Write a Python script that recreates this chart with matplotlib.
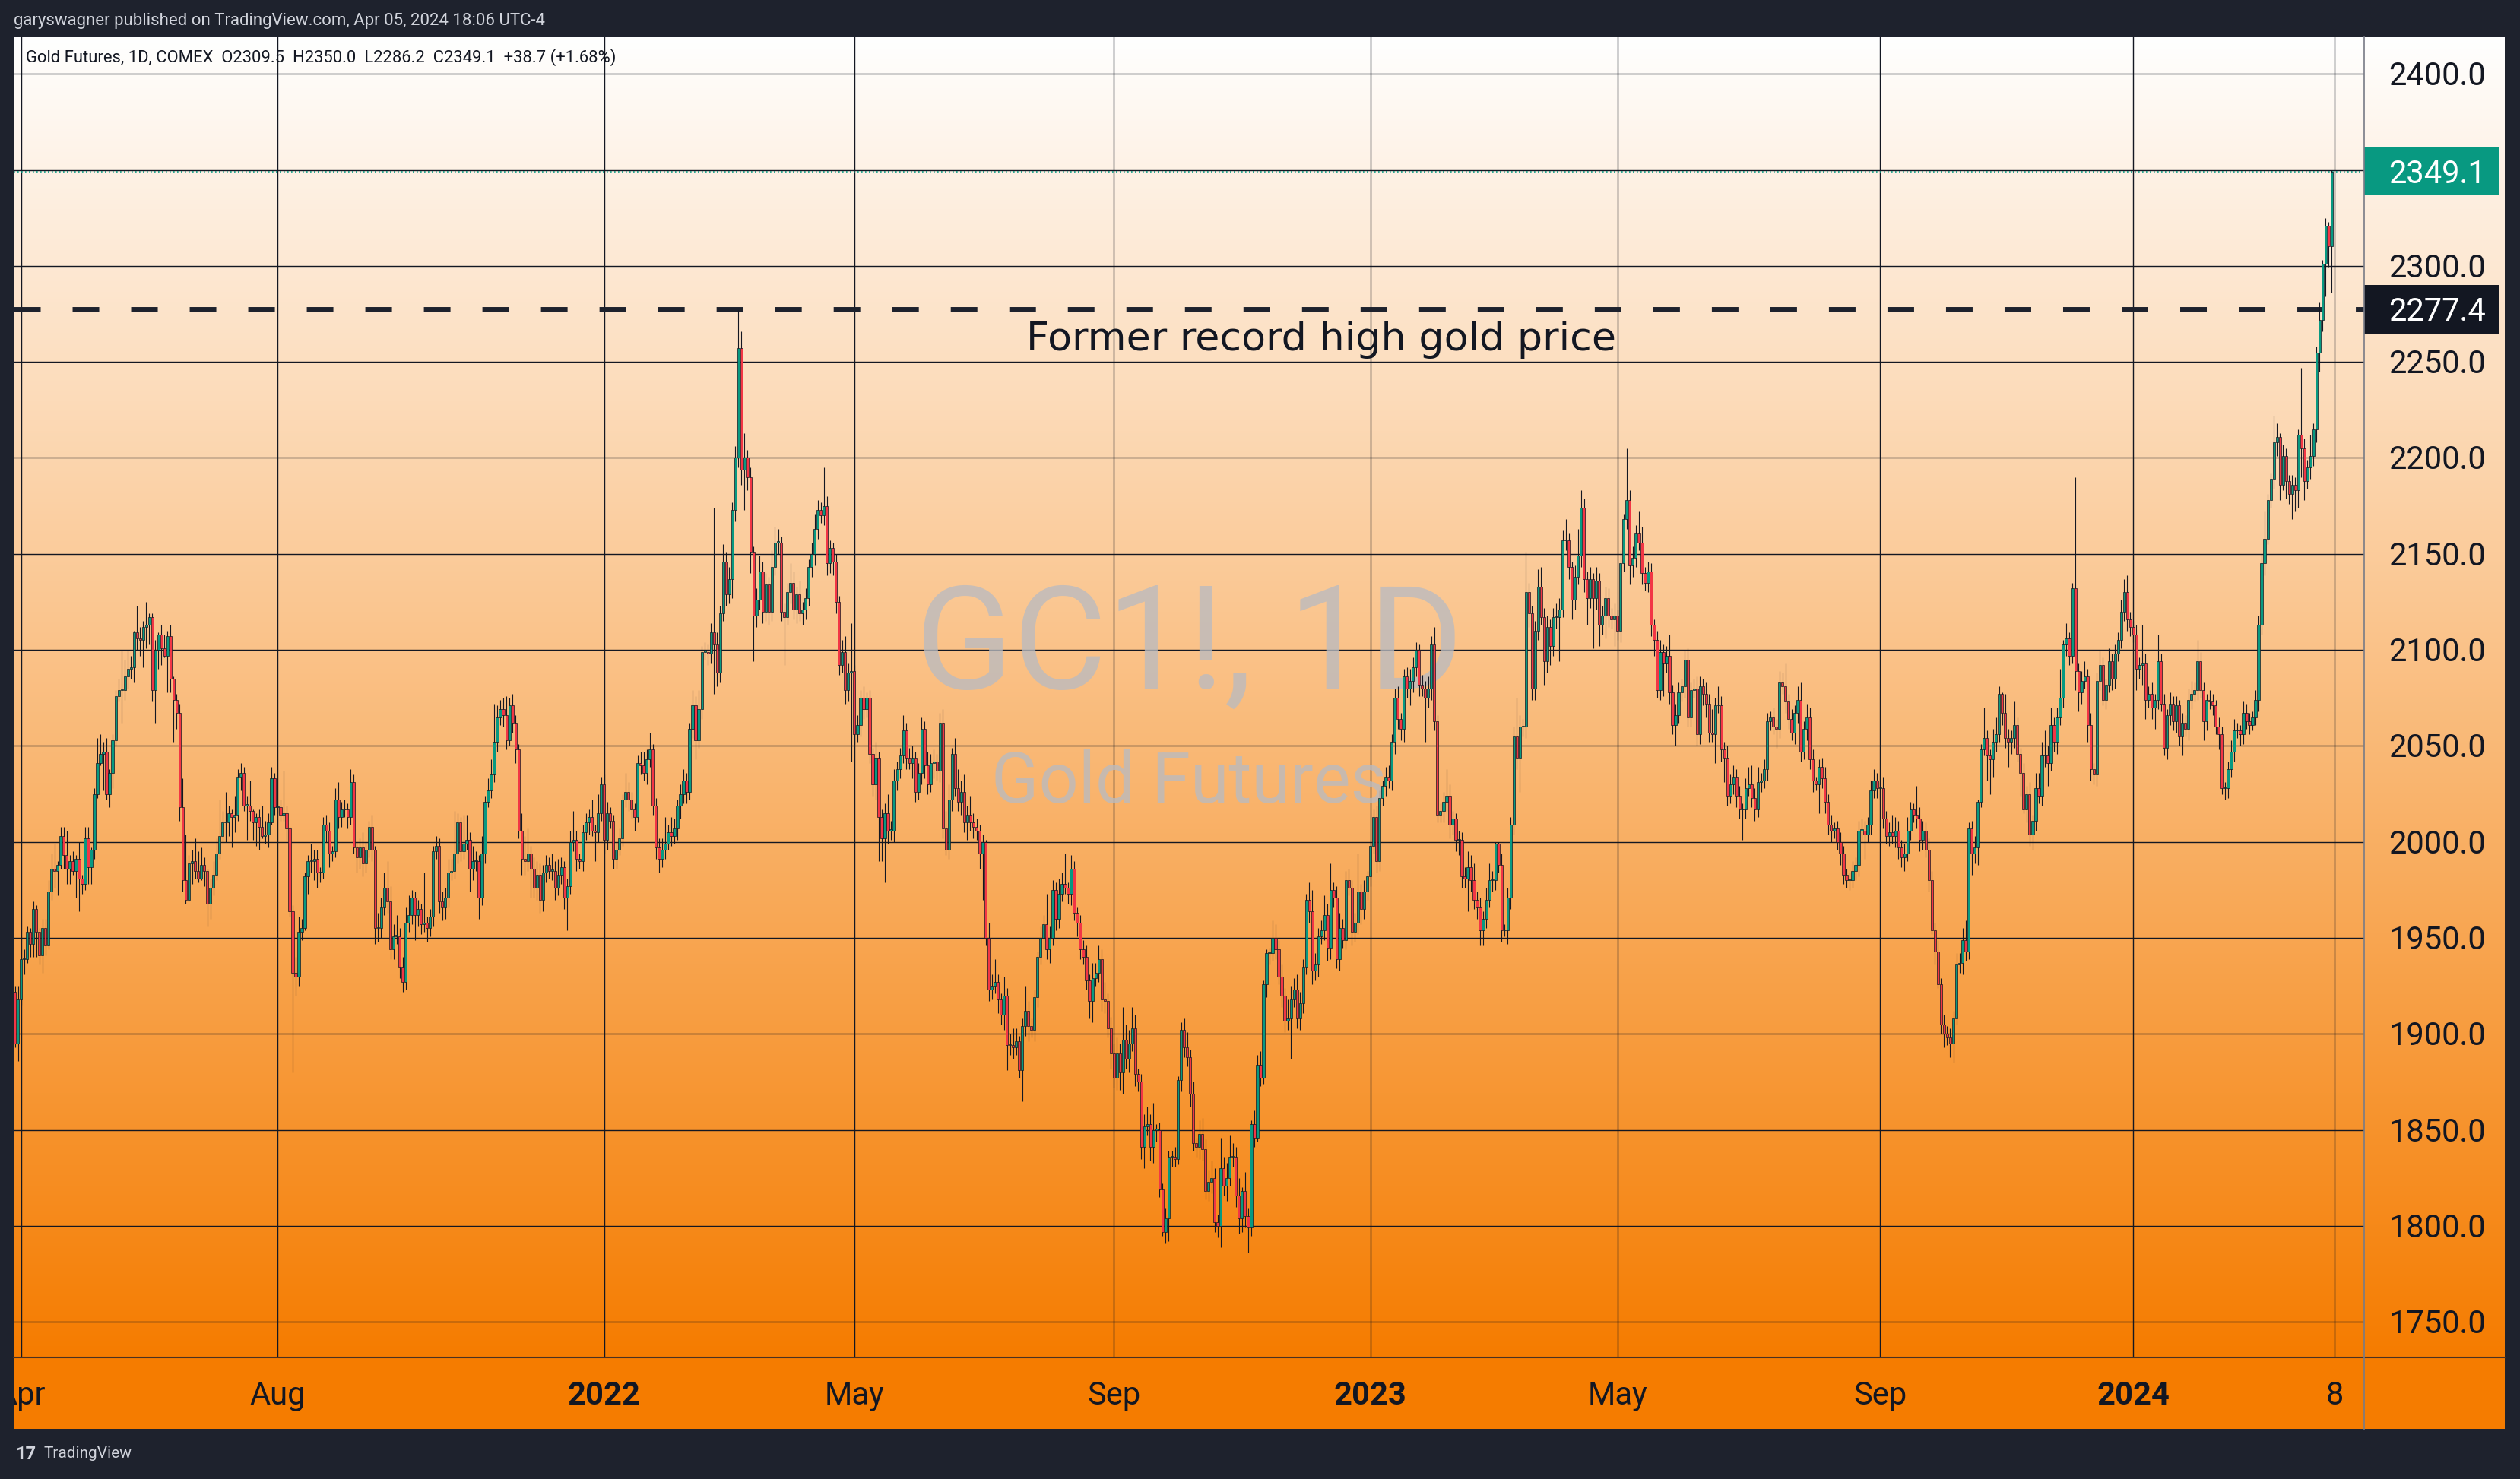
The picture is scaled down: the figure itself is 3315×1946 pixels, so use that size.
import numpy as np
import pandas as pd
import matplotlib
matplotlib.use("Agg")
import matplotlib.pyplot as plt
from matplotlib.patches import Rectangle
from matplotlib.lines import Line2D
from matplotlib.transforms import blended_transform_factory

# ---------------------------------------------------------------
# Gold Futures (GC1!, back-adjusted) daily candles
# open of each candle = previous close; wicks given in $ above/below body
# ---------------------------------------------------------------
first_open = 1922

# Mar 30 2021 -> mid Aug 2021
close_a = [1895, 1918, 1939, 1939, 1953, 1947, 1965, 1953, 1941, 1955,
           1946, 1974, 1986, 1985, 1988, 2003, 1993, 1986, 1990, 1985,
           1991, 1981, 1978, 2002, 1987, 1996, 2025, 2041, 2046, 2047,
           2025, 2036, 2053, 2076, 2079, 2079, 2086, 2090, 2091, 2109,
           2106, 2105, 2112, 2113, 2117, 2079, 2100, 2108, 2101, 2097,
           2107, 2085, 2074, 2067, 2018, 1980, 1970, 1989, 1990, 1985,
           1981, 1988, 1985, 1968, 1976, 1983, 1994, 2003, 2010, 2010,
           2015, 2013, 2014, 2034, 2036, 2019, 2019, 2016, 2010, 2013,
           2008, 2003, 2004, 2010, 2033, 2018, 2018, 2014, 2015, 2007,
           1964, 1932, 1930, 1953, 1955, 1982, 1990, 1990, 1991, 1984]
up_a = [3, 7, 1, 5, 3, 2, 4, 2, 2, 5, 5, 6, 8, 13, 2, 5, 5, 13, 3, 5,
        2, 9, 2, 6, 6, 1, 3, 13, 10, 5, 7, 2, 3, 3, 6, 21, 9, 10, 6, 1,
        14, 6, 3, 12, 2, 2, 5, 1, 5, 7, 3, 6, 1, 3, 5, 15, 24, 4, 6, 12,
        10, 9, 4, 1, 5, 7, 8, 19, 6, 16, 4, 2, 10, 4, 5, 3, 5, 13, 1, 2,
        4, 11, 7, 5, 6, 3, 1, 4, 22, 4, 1, 3, 8, 8, 5, 2, 3, 9, 5, 5]
dn_a = [2, 9, 3, 8, 2, 7, 7, 13, 5, 9, 5, 2, 4, 9, 13, 2, 7, 8, 8, 2,
        14, 17, 5, 3, 9, 9, 5, 2, 1, 19, 3, 7, 8, 3, 3, 17, 5, 6, 5, 8,
        6, 8, 14, 11, 10, 6, 17, 10, 9, 1, 19, 7, 22, 8, 7, 6, 2, 1, 11, 4,
        2, 1, 8, 12, 8, 4, 3, 3, 3, 10, 7, 16, 8, 3, 7, 3, 18, 5, 9, 12,
        12, 1, 4, 7, 1, 4, 3, 3, 3, 6, 3, 52, 10, 5, 4, 1, 9, 6, 10, 8]

# mid Aug 2021 -> end Dec 2021
close_b = [1984, 2009, 2006, 1994, 1995, 2022, 2013, 2017, 2017, 2013,
           2031, 1997, 1992, 1997, 1989, 1996, 2008, 1996, 1955, 1955,
           1966, 1976, 1969, 1944, 1951, 1951, 1935, 1927, 1958, 1962,
           1971, 1962, 1965, 1957, 1958, 1955, 1961, 1995, 1998, 1969,
           1966, 1971, 1984, 1985, 1994, 2010, 1995, 1999, 2001, 1986,
           1990, 1990, 1971, 1994, 2021, 2027, 2035, 2052, 2065, 2069,
           2066, 2053, 2071, 2062, 2048, 2006, 1991, 1990, 1994, 1986,
           1976, 1983, 1970, 1984, 1988, 1985, 1985, 1976, 1983, 1987,
           1971, 1977, 2000, 2001, 1991, 1990, 2005, 2010, 2013, 2006,
           2005, 2015, 2030, 2001, 2015]
up_b = [3, 4, 5, 4, 3, 6, 9, 4, 5, 3, 7, 4, 3, 5, 8, 4, 3, 6, 2, 8,
        5, 8, 14, 8, 6, 11, 4, 5, 8, 10, 4, 3, 5, 3, 26, 3, 4, 3, 5, 4,
        5, 5, 7, 6, 22, 5, 3, 15, 13, 4, 8, 5, 3, 9, 3, 6, 8, 20, 6, 5,
        6, 10, 4, 6, 4, 3, 9, 12, 13, 4, 6, 7, 6, 4, 5, 4, 9, 5, 8, 5,
        3, 4, 6, 15, 5, 3, 4, 5, 4, 9, 3, 10, 4, 5, 6]
dn_b = [5, 3, 6, 7, 4, 3, 6, 5, 4, 6, 4, 3, 8, 6, 7, 5, 4, 6, 8, 7,
        5, 4, 6, 5, 5, 4, 6, 5, 4, 5, 5, 13, 6, 5, 4, 7, 4, 5, 4, 6,
        7, 6, 5, 4, 4, 5, 5, 4, 3, 12, 6, 5, 11, 4, 5, 3, 4, 4, 5, 4,
        6, 5, 3, 5, 7, 4, 8, 7, 5, 15, 5, 6, 7, 6, 5, 4, 5, 6, 4, 5,
        6, 17, 4, 5, 6, 4, 5, 4, 6, 3, 15, 5, 4, 7, 5]

# Jan 2022 -> mid May 2022
close_c = [2011, 1991, 1996, 2002, 2022, 2026, 2022, 2017, 2013, 2041,
           2040, 2036, 2043, 2048, 2019, 1997, 1991, 1996, 1999, 2005,
           2003, 2007, 2019, 2025, 2032, 2026, 2059, 2071, 2053, 2069,
           2099, 2099, 2098, 2109, 2103, 2088, 2119, 2146, 2129, 2137,
           2173, 2200, 2257, 2194, 2200, 2190, 2151, 2118, 2126, 2141,
           2120, 2134, 2120, 2143, 2156, 2156, 2120, 2117, 2130, 2135,
           2121, 2129, 2119, 2121, 2127, 2143, 2150, 2163, 2173, 2170,
           2175, 2145, 2153, 2146, 2125, 2092, 2099, 2079, 2088, 2089,
           2056, 2061, 2075, 2069, 2075, 2046, 2030, 2044, 2013, 2002,
           2015, 2006, 2006, 2032, 2038]
up_c = [3, 3, 4, 5, 3, 10, 5, 4, 3, 4, 6, 7, 5, 9, 3, 4, 5, 6, 14, 4,
        8, 5, 3, 5, 6, 4, 3, 8, 5, 10, 3, 5, 4, 5, 65, 6, 4, 9, 5, 6,
        4, 6, 20, 9, 13, 4, 5, 3, 6, 8, 5, 6, 4, 9, 8, 7, 3, 4, 5, 10,
        6, 4, 7, 4, 5, 4, 6, 8, 5, 4, 20, 5, 4, 3, 4, 3, 6, 8, 5, 25,
        3, 5, 4, 6, 3, 4, 3, 8, 3, 4, 5, 10, 5, 6, 4]
dn_c = [4, 5, 5, 3, 4, 4, 6, 5, 7, 3, 5, 4, 6, 4, 5, 6, 7, 4, 5, 3,
        5, 4, 6, 7, 5, 6, 4, 5, 10, 4, 5, 4, 6, 5, 26, 7, 5, 4, 6, 5,
        10, 6, 5, 8, 21, 7, 11, 24, 6, 5, 6, 5, 7, 5, 4, 6, 5, 25, 4, 6,
        5, 7, 4, 6, 5, 4, 5, 6, 5, 4, 5, 6, 5, 7, 6, 5, 4, 7, 6, 46,
        5, 4, 6, 5, 4, 5, 6, 8, 23, 12, 23, 7, 5, 6, 5]

# mid May 2022 -> Sep 2022
close_d = [2045, 2058, 2044, 2041, 2044, 2026, 2036, 2059, 2040, 2030,
           2041, 2042, 2037, 2062, 2007, 1996, 2022, 2046, 2028, 2021,
           2026, 2010, 2014, 2010, 2008, 2006, 1994, 2000, 1950, 1923,
           1925, 1927, 1918, 1910, 1920, 1894, 1894, 1893, 1896, 1881,
           1904, 1912, 1904, 1902, 1919, 1940, 1950, 1957, 1944, 1950,
           1975, 1960, 1973, 1978, 1976, 1973, 1986, 1963, 1958, 1944,
           1940, 1928, 1917, 1929, 1932, 1939, 1918, 1917, 1903, 1890,
           1877, 1890, 1880, 1897, 1887, 1895, 1903, 1879, 1875, 1841,
           1852, 1853, 1841, 1850, 1850, 1819, 1797, 1804, 1836]
up_d = [4, 8, 4, 5, 6, 3, 5, 6, 4, 7, 5, 6, 4, 5, 7, 9, 8, 3, 8, 10,
        6, 9, 5, 10, 5, 4, 3, 4, 1, 8, 6, 12, 4, 3, 10, 4, 6, 9, 7, 3,
        4, 13, 5, 4, 4, 3, 6, 5, 16, 6, 5, 4, 8, 6, 16, 3, 7, 4, 3, 4,
        5, 6, 3, 8, 5, 7, 5, 9, 4, 6, 5, 8, 5, 17, 8, 7, 11, 7, 3, 4,
        6, 9, 5, 14, 3, 4, 3, 5, 3]
dn_d = [5, 4, 6, 3, 8, 5, 4, 6, 7, 5, 4, 8, 5, 6, 5, 3, 5, 6, 4, 5,
        7, 5, 9, 4, 6, 5, 8, 24, 4, 6, 5, 4, 7, 5, 8, 13, 5, 6, 4, 4,
        16, 5, 8, 4, 6, 5, 4, 6, 5, 7, 4, 6, 5, 4, 3, 5, 6, 4, 7, 5,
        4, 5, 9, 11, 4, 5, 6, 6, 5, 8, 5, 6, 9, 11, 5, 7, 4, 6, 5, 6,
        11, 5, 7, 8, 6, 4, 2, 6, 12]

# Oct 2022 -> early Jan 2023
close_e = [1836, 1835, 1876, 1902, 1893, 1888, 1869, 1843, 1841, 1848,
           1840, 1818, 1823, 1825, 1802, 1800, 1830, 1821, 1825, 1836,
           1836, 1816, 1804, 1818, 1805, 1799, 1853, 1846, 1884, 1877,
           1926, 1942, 1942, 1950, 1944, 1930, 1920, 1907, 1908, 1918,
           1923, 1908, 1916, 1935, 1970, 1964, 1933, 1936, 1951, 1954,
           1962, 1945, 1975, 1971, 1939, 1955, 1949, 1980, 1976, 1953,
           1958, 1974, 1965, 1974, 1982, 1998, 2013, 1990, 2023, 2029,
           2034, 2032]
up_e = [3, 5, 2, 4, 6, 8, 4, 6, 3, 7, 8, 5, 6, 9, 5, 4, 16, 6, 8, 11,
        7, 5, 9, 2, 10, 4, 2, 7, 5, 7, 2, 2, 3, 9, 7, 5, 6, 4, 10, 7,
        6, 8, 6, 4, 3, 9, 11, 6, 4, 5, 10, 6, 14, 4, 6, 8, 5, 5, 6, 4,
        5, 20, 4, 6, 3, 2, 4, 6, 4, 3, 5, 6]
dn_e = [5, 4, 3, 6, 5, 5, 7, 4, 5, 6, 6, 4, 5, 6, 5, 6, 11, 5, 8, 4,
        5, 6, 8, 7, 6, 13, 4, 5, 2, 4, 3, 7, 6, 4, 5, 4, 6, 6, 5, 21,
        4, 5, 6, 5, 4, 6, 7, 5, 6, 4, 5, 7, 6, 5, 5, 6, 4, 5, 4, 7,
        5, 6, 8, 5, 4, 5, 4, 6, 5, 4, 5, 4]

# Jan 2023 -> early Jun 2023
close_f = [2052, 2075, 2064, 2059, 2086, 2080, 2084, 2091, 2100, 2082,
           2080, 2075, 2080, 2103, 2063, 2014, 2016, 2021, 2024, 2009,
           2012, 2001, 2001, 1982, 1981, 1987, 1980, 1970, 1966, 1954,
           1960, 1970, 1980, 1980, 1999, 1988, 1954, 1954, 1971, 2009,
           2055, 2044, 2060, 2060, 2130, 2119, 2080, 2110, 2133, 2117,
           2094, 2112, 2102, 2117, 2117, 2121, 2157, 2157, 2143, 2126,
           2138, 2149, 2174, 2137, 2127, 2137, 2127, 2136, 2113, 2118,
           2127, 2118, 2116, 2118, 2110, 2145, 2168, 2178, 2144, 2148,
           2161, 2156, 2140, 2135, 2141, 2113, 2105, 2079, 2099, 2093,
           2097, 2078, 2061, 2066, 2078, 2081, 2095, 2065]
up_f = [4, 5, 6, 3, 4, 5, 6, 5, 4, 3, 5, 4, 6, 4, 9, 3, 4, 5, 14, 6,
        4, 3, 5, 4, 5, 8, 6, 9, 4, 5, 4, 6, 9, 5, 1, 1, 6, 3, 5, 4,
        5, 20, 6, 4, 21, 5, 4, 5, 9, 10, 5, 6, 4, 5, 7, 6, 5, 11, 4, 3,
        6, 14, 9, 5, 4, 6, 3, 7, 4, 5, 6, 5, 4, 6, 3, 7, 3, 27, 5, 6,
        4, 11, 8, 3, 5, 4, 3, 5, 6, 4, 5, 11, 4, 6, 5, 4, 5, 6]
dn_f = [5, 6, 5, 6, 7, 5, 9, 6, 5, 6, 4, 23, 5, 6, 5, 4, 4, 6, 5, 7,
        5, 6, 8, 6, 5, 17, 6, 5, 6, 8, 8, 5, 4, 6, 5, 4, 6, 3, 7, 6,
        5, 6, 18, 5, 6, 7, 6, 6, 5, 4, 12, 6, 10, 5, 6, 23, 4, 5, 6, 10,
        5, 4, 6, 7, 14, 5, 26, 6, 11, 5, 12, 6, 5, 14, 5, 6, 4, 5, 10, 6,
        5, 4, 6, 4, 5, 6, 8, 4, 5, 17, 5, 6, 5, 11, 4, 5, 6, 5]

# Jun 2023 -> mid Oct 2023
close_g = [2079, 2080, 2056, 2081, 2077, 2072, 2057, 2056, 2071, 2071,
           2048, 2044, 2024, 2030, 2034, 2024, 2017, 2017, 2028, 2030,
           2023, 2017, 2031, 2032, 2038, 2063, 2065, 2060, 2059, 2083,
           2081, 2073, 2064, 2057, 2067, 2074, 2047, 2059, 2065, 2043,
           2032, 2030, 2039, 2033, 2021, 2009, 2006, 2007, 2000, 1994,
           1983, 1980, 1980, 1985, 1988, 2006, 2006, 2004, 2009, 2027,
           2032, 2028, 2028, 2012, 2003, 2005, 2003, 2006, 1997, 1992,
           1994, 2006, 2017, 2014, 2012, 2001, 2006, 1996, 1980, 1954,
           1943, 1926, 1905, 1900, 1898, 1895, 1908, 1936, 1937, 1949,
           1943, 2007, 1994, 1997]
up_g = [4, 5, 6, 5, 4, 6, 5, 12, 4, 10, 5, 4, 6, 5, 6, 4, 5, 3, 5, 9,
        10, 5, 8, 4, 5, 4, 3, 5, 4, 6, 5, 12, 4, 5, 4, 7, 9, 4, 7, 5,
        5, 2, 4, 5, 6, 4, 5, 3, 4, 5, 4, 3, 4, 5, 4, 5, 6, 5, 4, 5,
        6, 4, 3, 6, 4, 5, 9, 7, 5, 4, 5, 7, 4, 3, 15, 6, 5, 4, 6, 5,
        4, 6, 3, 5, 4, 5, 4, 6, 5, 6, 10, 3, 4, 6]
dn_g = [5, 4, 6, 5, 6, 7, 5, 4, 15, 4, 6, 13, 5, 4, 5, 6, 5, 16, 5, 4,
        5, 6, 4, 5, 4, 6, 5, 4, 10, 5, 4, 6, 5, 4, 6, 5, 5, 4, 6, 5,
        6, 3, 15, 5, 6, 5, 6, 4, 4, 6, 5, 4, 5, 4, 5, 6, 5, 13, 4, 5,
        4, 5, 6, 5, 4, 5, 4, 6, 6, 5, 7, 4, 5, 4, 5, 6, 5, 4, 6, 2,
        7, 2, 5, 7, 4, 7, 10, 3, 4, 6, 5, 4, 11, 5]

# mid Oct 2023 -> early Mar 2024
close_h = [2021, 2048, 2054, 2045, 2043, 2052, 2056, 2077, 2067, 2054,
           2052, 2054, 2061, 2046, 2036, 2017, 2025, 2004, 2011, 2028,
           2024, 2045, 2045, 2041, 2061, 2052, 2065, 2075, 2103, 2106,
           2097, 2132, 2089, 2078, 2084, 2086, 2061, 2038, 2035, 2084,
           2092, 2074, 2082, 2094, 2085, 2098, 2105, 2120, 2130, 2116,
           2112, 2108, 2090, 2092, 2093, 2074, 2077, 2070, 2074, 2094,
           2072, 2049, 2066, 2072, 2063, 2071, 2055, 2062, 2059, 2074,
           2077, 2079, 2094, 2079, 2063, 2074, 2073, 2071, 2060, 2056,
           2028, 2028, 2038, 2047, 2058, 2058, 2056, 2067, 2063, 2061,
           2065, 2074, 2113, 2145, 2158]
up_h = [1, 3, 16, 4, 3, 7, 9, 4, 1, 10, 5, 4, 12, 4, 3, 5, 4, 6, 3, 8,
        8, 7, 13, 5, 9, 4, 5, 15, 2, 8, 3, 3, 58, 4, 5, 8, 4, 6, 3, 4,
        8, 4, 3, 7, 4, 5, 4, 6, 7, 9, 4, 3, 5, 4, 20, 5, 4, 6, 3, 14,
        4, 5, 3, 6, 4, 5, 3, 5, 4, 6, 7, 4, 11, 5, 4, 3, 5, 4, 3, 5,
        4, 3, 4, 6, 6, 4, 3, 6, 5, 4, 3, 5, 5, 5, 14]
dn_h = [9, 3, 3, 13, 18, 9, 5, 4, 6, 5, 13, 6, 5, 4, 12, 2, 7, 6, 8, 5,
        4, 5, 6, 12, 4, 5, 6, 4, 5, 6, 5, 4, 10, 10, 6, 4, 9, 6, 5, 6,
        5, 3, 5, 4, 6, 5, 4, 4, 5, 6, 5, 4, 11, 5, 10, 10, 4, 6, 11, 5,
        4, 4, 6, 5, 5, 6, 5, 10, 4, 6, 5, 4, 5, 4, 10, 5, 4, 5, 4, 8,
        3, 6, 5, 4, 5, 4, 6, 5, 4, 5, 3, 4, 6, 5, 6]

# Mar 2024 -> Apr 05 2024
close_i = [2178, 2189, 2208, 2211, 2186, 2201, 2188, 2181, 2186, 2183,
           2212, 2205, 2188, 2195, 2201, 2215, 2255, 2272, 2301, 2321,
           2310.4, 2349.1]
up_i = [3, 3, 14, 7, 2, 6, 4, 3, 5, 4, 3, 35, 5, 4, 11, 3, 3, 9, 2, 4, 2, 0.9]
dn_i = [3, 4, 5, 7, 8, 3, 9, 5, 13, 11, 9, 15, 10, 4, 6, 5, 7, 10, 6, 17, 11, 24.2]

market_holidays = ['2021-04-02', '2021-05-31', '2021-07-05', '2021-09-06', '2021-11-25',
                   '2021-12-24', '2022-01-17', '2022-02-21', '2022-04-15', '2022-05-30',
                   '2022-06-20', '2022-07-04', '2022-09-05', '2022-11-24', '2022-12-26',
                   '2023-01-02', '2023-01-16', '2023-02-20', '2023-04-07', '2023-05-29',
                   '2023-06-19', '2023-07-04', '2023-09-04', '2023-11-23', '2023-12-25',
                   '2024-01-01', '2024-01-15', '2024-02-19', '2024-03-29']

tick_dates = ['2021-04-01', '2021-08-02', '2022-01-03', '2022-05-02', '2022-09-01',
              '2023-01-03', '2023-05-01', '2023-09-01', '2024-01-02', '2024-04-08']
tick_labels = ['Apr', 'Aug', '2022', 'May', 'Sep', '2023', 'May', 'Sep', '2024', '8']

price_levels = np.arange(1750, 2401, 50)
last_price = 2349.1
record_high = 2277.4

# ---------------------------------------------------------------
close = np.array(close_a + close_b + close_c + close_d + close_e +
                 close_f + close_g + close_h + close_i, dtype=float)
up_wick = np.array(up_a + up_b + up_c + up_d + up_e + up_f + up_g + up_h + up_i, dtype=float)
dn_wick = np.array(dn_a + dn_b + dn_c + dn_d + dn_e + dn_f + dn_g + dn_h + dn_i, dtype=float)
n = len(close)
assert len(up_wick) == n and len(dn_wick) == n, (n, len(up_wick), len(dn_wick))

opn = np.r_[first_open, close[:-1]]
high = np.maximum(opn, close) + up_wick
low = np.minimum(opn, close) - dn_wick
x = np.arange(n)

dates = pd.bdate_range(end='2024-04-05', periods=n, freq='C', holidays=market_holidays)
tick_pos = [int(dates.searchsorted(pd.Timestamp(d))) for d in tick_dates]

# ---------------------------------------------------------------
W, H = 3315, 1946
DARK = '#1e222d'
INK = '#131722'
GREEN = '#089981'
RED = '#f23645'
FONT = ['Roboto', 'DejaVu Sans']


def fx(px):
    return px / W


def fy(py):
    return 1 - py / H


fig = plt.figure(figsize=(W / 100, H / 100), dpi=100, facecolor=DARK)

# pane gradient (plot + price scale)
bg = fig.add_axes([fx(18), fy(1786), fx(3295 - 18), 1737 / H])
t = np.linspace(0, 1, 600)[:, None, None]
c_top = np.array([255, 255, 255]) / 255
c_bot = np.array([245, 124, 0]) / 255
bg.imshow(c_top + (c_bot - c_top) * t, aspect='auto', extent=[0, 1, 0, 1], origin='upper')
bg.axis('off')

ax = fig.add_axes([fx(18), fy(1786), fx(3110 - 18), 1737 / H])
ax.set_facecolor('none')
ax.set_xlim(-0.4, 769.6)
ax.set_ylim(1731.5, 2419.1)
for s in ax.spines.values():
    s.set_visible(False)
ax.set_xticks([])
ax.set_yticks([])

for lv in price_levels:
    ax.axhline(lv, color=INK, lw=1.0, zorder=1)
for p in tick_pos:
    ax.axvline(p, color=INK, lw=1.0, zorder=1)

# watermark
ax.text(0.5, 0.507, 'GC1!, 1D', transform=ax.transAxes, ha='center', va='baseline',
        fontsize=136, family=FONT, color='#babbc0', alpha=0.78, zorder=1.5)
ax.text(0.5, 0.42, 'Gold Futures', transform=ax.transAxes, ha='center', va='baseline',
        fontsize=66, family=FONT, color='#babbc0', alpha=0.78, zorder=1.5)

# price lines
ax.axhline(last_price, color=GREEN, lw=1.2, ls=(0, (1, 2)), zorder=2)
ax.axhline(record_high, color=DARK, lw=5, ls=(0, (5.04, 6.05)), zorder=2.5)
ax.text(0.5563, 2256.0, 'Former record high gold price', ha='center', va='baseline',
        transform=blended_transform_factory(ax.transAxes, ax.transData),
        fontsize=37.6, family=['DejaVu Sans'], color=INK, zorder=6)

# candles
up = close >= opn
ax.vlines(x, low, high, color=INK, lw=0.8, zorder=3)
ax.bar(x, np.maximum(np.abs(close - opn), 0.5), bottom=np.minimum(opn, close), width=0.8,
       color=np.where(up, GREEN, RED), edgecolor=INK, linewidth=0.5, zorder=4)

# price scale
tr = blended_transform_factory(ax.transAxes, ax.transData)
xr = (3270 - 18) / 3092
for lv in price_levels:
    ax.text(xr, lv - 5.9, f'{lv:.1f}', transform=tr, ha='right', va='baseline',
            fontsize=30, family=FONT, color=INK, clip_on=False, zorder=7)


def price_box(val, fc):
    ax.add_patch(Rectangle((1.0, val - 12.5), (3288 - 3110) / 3092, 25, transform=tr,
                           facecolor=fc, edgecolor='none', clip_on=False, zorder=9))
    ax.text(xr, val - 5.9, f'{val:.1f}', transform=tr, ha='right', va='baseline',
            fontsize=30, family=FONT, color='white', clip_on=False, zorder=10)


price_box(last_price, GREEN)
price_box(record_high, INK)

# time scale
axt = fig.add_axes([fx(18), fy(1880), fx(3295 - 18), 94 / H])
axt.set_facecolor('#f57c00')
axt.set_xlim(-0.4, -0.4 + (3295 - 18) / (3092 / 770.0))
axt.set_ylim(0, 1)
axt.set_xticks([])
axt.set_yticks([])
for s in axt.spines.values():
    s.set_visible(False)
for p, lab in zip(tick_pos, tick_labels):
    axt.text(p, 0.34, lab, ha='center', va='baseline', fontsize=30, family=FONT,
             fontweight='bold' if len(lab) == 4 else 'normal', color=INK, clip_on=True)

fig.add_artist(Line2D([fx(18), fx(3295)], [fy(1786), fy(1786)], transform=fig.transFigure,
                      color='#4a3020', lw=1.5))
fig.add_artist(Line2D([fx(3110), fx(3110)], [fy(49), fy(1880)], transform=fig.transFigure,
                      color='#787b86', lw=1.2))

# header / footer texts
fig.text(fx(18), fy(28), 'garyswagner published on TradingView.com, Apr 05, 2024 18:06 UTC-4',
         color='#d1d4dc', fontsize=16, family=FONT, va='center')
fig.text(fx(34), fy(76), 'Gold Futures, 1D, COMEX  O2309.5  H2350.0  L2286.2  C2349.1  +38.7 (+1.68%)',
         color=INK, fontsize=15.8, family=FONT, va='center')
fig.text(fx(20), fy(1913), '17', color='#d1d4dc', fontsize=17, fontweight='bold', family=FONT, va='center')
fig.text(fx(58), fy(1913), 'TradingView', color='#d1d4dc', fontsize=15, family=FONT, va='center')

fig.savefig('out.png', dpi=100, facecolor=DARK)
